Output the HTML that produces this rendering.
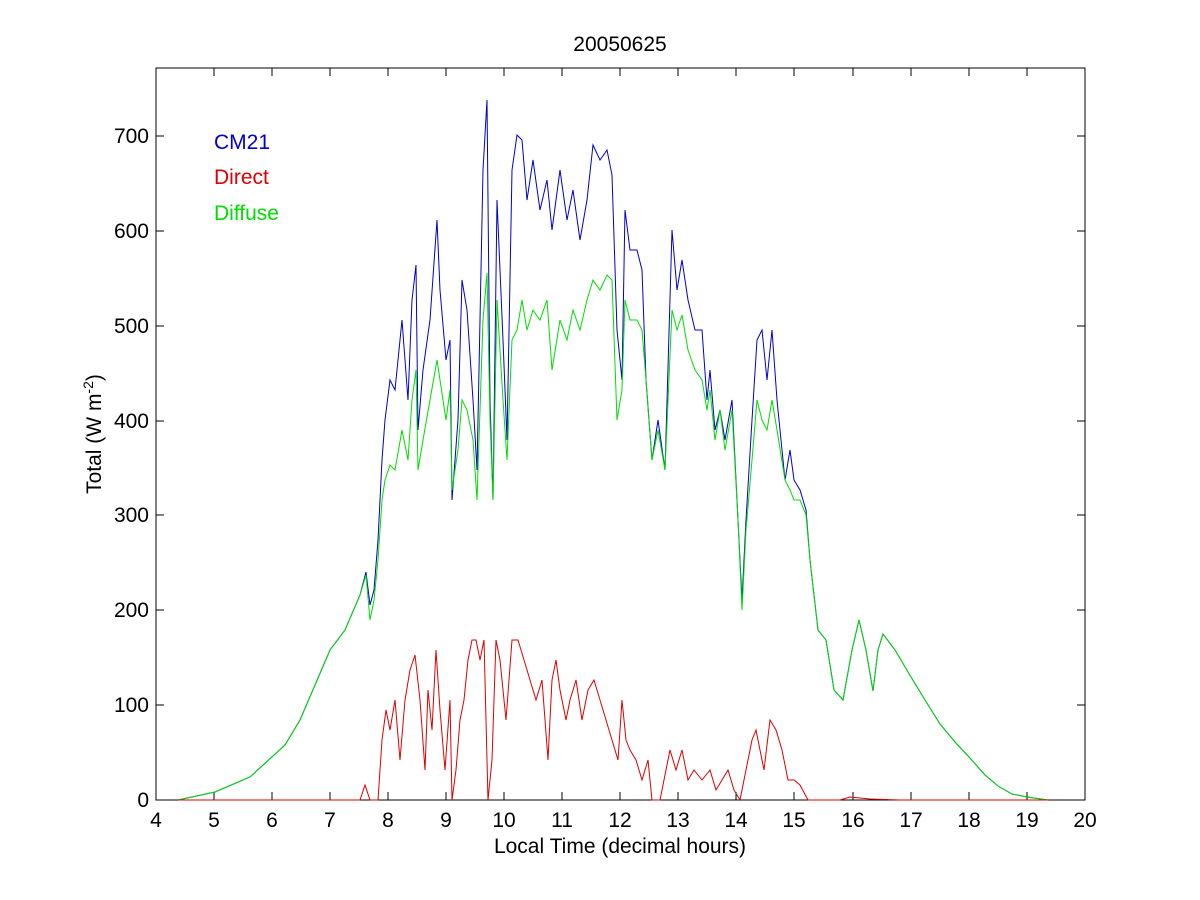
<!DOCTYPE html>
<html><head><meta charset="utf-8"><style>
body{margin:0;background:#fff;}
svg{display:block;font-family:"Liberation Sans",Arial,sans-serif;}
</style></head><body>
<svg width="1200" height="900" viewBox="0 0 1200 900">
<rect width="1200" height="900" fill="#fff"/>
<rect x="156" y="68" width="929" height="732" fill="#fff" stroke="#000" stroke-width="1"/>
<g stroke="#000" stroke-width="1">
<path d="M156,800v-8M214,800v-8M272,800v-8M330,800v-8M388,800v-8M446,800v-8M504,800v-8M562,800v-8M620,800v-8M678,800v-8M736,800v-8M794,800v-8M853,800v-8M911,800v-8M969,800v-8M1027,800v-8M1085,800v-8"/>
<path d="M156,68v8M214,68v8M272,68v8M330,68v8M388,68v8M446,68v8M504,68v8M562,68v8M620,68v8M678,68v8M736,68v8M794,68v8M853,68v8M911,68v8M969,68v8M1027,68v8M1085,68v8"/>
<path d="M156,800h8M156,705h8M156,610h8M156,515h8M156,421h8M156,326h8M156,231h8M156,136h8"/>
<path d="M1085,800h-8M1085,705h-8M1085,610h-8M1085,515h-8M1085,421h-8M1085,326h-8M1085,231h-8M1085,136h-8"/>
</g>
<g font-size="21" text-anchor="middle" fill="#000">
<text x="156" y="827">4</text><text x="214" y="827">5</text><text x="272" y="827">6</text><text x="330" y="827">7</text><text x="388" y="827">8</text><text x="446" y="827">9</text><text x="504" y="827">10</text><text x="562" y="827">11</text><text x="620" y="827">12</text><text x="678" y="827">13</text><text x="736" y="827">14</text><text x="794" y="827">15</text><text x="853" y="827">16</text><text x="911" y="827">17</text><text x="969" y="827">18</text><text x="1027" y="827">19</text><text x="1085" y="827">20</text>
</g>
<g font-size="21" text-anchor="end" fill="#000">
<text x="149" y="807">0</text><text x="149" y="712">100</text><text x="149" y="617">200</text><text x="149" y="522">300</text><text x="149" y="428">400</text><text x="149" y="333">500</text><text x="149" y="238">600</text><text x="149" y="143">700</text>
</g>
<text x="620" y="51" font-size="21" text-anchor="middle">20050625</text>
<text x="620" y="853" font-size="21" text-anchor="middle">Local Time (decimal hours)</text>
<text transform="translate(101,434) rotate(-90)" font-size="21" text-anchor="middle">Total (W m<tspan dy="-8" font-size="14">-2</tspan><tspan dy="8">)</tspan></text>
<text x="214" y="149" font-size="21" fill="#0000cc">CM21</text>
<text x="214" y="184" font-size="21" fill="#dd0000">Direct</text>
<text x="214" y="220" font-size="21" fill="#00dd00">Diffuse</text>
<polyline fill="none" stroke="#0000cc" stroke-width="1" points="178,800 215,792 250,777 285,745 300,720 330,650 345,630 360,595 366,572 370,605 374,590 378,540 382,460 385,420 390,380 395,390 402,320 408,400 412,300 416,265 418,430 423,370 430,320 437,220 440,290 446,360 450,340 452,500 458,420 462,280 467,310 473,400 477,470 483,170 487,100 490,400 493,500 497,200 503,340 507,440 512,170 517,135 522,140 527,200 533,160 540,210 547,180 552,230 560,170 567,220 573,190 580,240 587,200 593,145 600,160 607,150 612,175 617,330 622,380 625,210 630,250 637,250 642,270 646,380 652,460 658,420 665,470 672,230 677,290 682,260 688,300 695,330 702,330 707,400 710,370 715,430 720,410 725,440 732,400 738,520 742,600 746,520 752,420 757,340 762,330 767,380 772,330 777,400 785,480 790,450 794,480 800,490 806,510 810,560 818,630 826,640 834,690 843,700 852,650 859,620 866,650 873,691 878,650 883,634 895,650 911,677 925,700 940,724 955,742 969,757 985,775 998,786 1012,794 1027,797 1048,800"/>
<polyline fill="none" stroke="#00dd00" stroke-width="1" points="178,800 215,792 250,777 285,745 300,720 330,650 345,630 360,595 366,575 370,620 374,600 378,560 382,500 385,480 390,465 395,470 402,430 408,460 412,400 416,370 418,470 423,440 430,400 437,360 440,380 446,420 450,390 452,490 458,450 462,400 467,410 473,440 477,500 483,320 487,273 490,420 493,500 497,300 503,400 507,460 512,340 517,330 522,300 527,330 533,310 540,320 547,300 552,370 560,320 567,340 573,310 580,330 587,300 593,280 600,290 607,275 612,280 617,420 622,390 625,300 630,320 637,320 642,330 646,380 652,460 658,430 665,470 672,310 677,330 682,315 688,350 695,370 702,380 707,410 710,390 715,440 720,410 725,450 732,410 738,520 742,610 746,530 752,460 757,400 762,420 767,430 772,400 777,430 785,480 790,490 794,500 800,500 806,515 810,560 818,630 826,640 834,690 843,700 852,650 859,620 866,650 873,691 878,650 883,634 895,650 911,677 925,700 940,724 955,742 969,757 985,775 998,786 1012,794 1027,797 1048,800"/>
<polyline fill="none" stroke="#dd0000" stroke-width="1" points="178,800 360,800 365,785 370,800 378,800 382,740 386,710 390,730 395,700 400,760 405,700 410,670 415,655 420,700 425,770 428,690 432,730 436,650 440,710 445,770 450,700 452,800 456,770 460,720 464,700 468,660 472,640 476,640 480,660 484,640 488,800 492,760 496,640 500,660 506,720 512,640 518,640 524,660 530,680 536,700 542,680 548,760 552,680 556,660 560,690 566,720 570,700 576,680 582,720 588,690 594,680 600,700 606,720 612,740 618,760 622,700 626,740 630,750 636,760 642,780 648,760 652,800 660,800 670,750 676,770 682,750 688,780 694,770 702,780 710,770 716,790 722,780 728,770 734,790 740,800 744,780 748,760 752,740 756,730 760,750 764,770 770,720 776,730 782,750 788,780 794,780 800,785 808,800 840,800 850,797 870,799 900,800 1048,800"/>
</svg>
</body></html>
